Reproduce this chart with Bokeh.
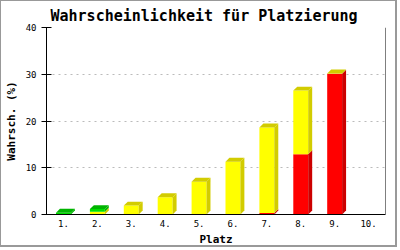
from bokeh.plotting import figure
from bokeh.models import FixedTicker, Span, Range1d
from bokeh.embed import file_html
from bokeh.resources import INLINE

# ---- data ----
platz_labels = ["1.", "2.", "3.", "4.", "5.", "6.", "7.", "8.", "9.", "10."]
red_vals = [0, 0, 0, 0, 0, 0, 0.3, 12.9, 30.1, 0]
yellow_vals = [0, 0.6, 1.9, 3.7, 7.0, 11.3, 18.3, 13.6, 0.05, 0]
green_vals = [0.4, 0.55, 0, 0, 0, 0, 0, 0, 0, 0]
y_ticks = [0, 10, 20, 30, 40]

series = [
    (red_vals, "#ff0000", "#cc0000"),
    (yellow_vals, "#ffff00", "#d2cc00"),
    (green_vals, "#00e000", "#00b400"),
]

n = len(platz_labels)
centers = [i + 0.5 for i in range(n)]

p = figure(width=397, height=247, output_backend="svg", toolbar_location=None,
           x_range=Range1d(0, n), y_range=Range1d(0, 40),
           min_border_left=42, min_border_right=13, min_border_top=24, min_border_bottom=33,
           title="Wahrscheinlichkeit für Platzierung")
p.styles = {"border-left": "1px solid #999999", "border-top": "1px solid #999999",
            "border-right": "2px solid #999999", "border-bottom": "2px solid #999999"}
p.background_fill_color = "white"
p.border_fill_color = "white"
p.outline_line_color = None

p.title.text_font = "DejaVu Sans Mono"
p.title.text_font_size = "15px"
p.title.text_font_style = "bold"
p.title.text_color = "black"
p.title.align = "left"
p.title.offset = 4
p.title.standoff = 6

hw = 0.22   # half front width (data units)
dx = 0.117  # depth in x
dy = 0.85   # depth in y

base = [0.0] * n
top_color = [None] * n
for vals, front, side in series:
    fl, fr, fb, ft = [], [], [], []
    sx, sy = [], []
    for i in range(n):
        v = vals[i]
        if v <= 0:
            continue
        y0 = base[i]
        y1 = y0 + v
        xc = centers[i]
        fl.append(xc - hw); fr.append(xc + hw); fb.append(y0); ft.append(y1)
        sx.append([xc + hw, xc + hw + dx, xc + hw + dx, xc + hw])
        sy.append([y0, y0 + dy, y1 + dy, y1])
        base[i] = y1
        top_color[i] = side
    if fl:
        p.quad(left=fl, right=fr, bottom=fb, top=ft, fill_color=front, line_color=None)
        p.patches(xs=sx, ys=sy, fill_color=side, line_color=None)

tx, ty, tc = [], [], []
for i in range(n):
    if top_color[i] is None:
        continue
    xc = centers[i]
    y1 = base[i]
    tx.append([xc - hw, xc - hw + dx, xc + hw + dx, xc + hw])
    ty.append([y1, y1 + dy, y1 + dy, y1])
    tc.append(top_color[i])
p.patches(xs=tx, ys=ty, fill_color=tc, line_color=None)

# axes
p.xaxis.ticker = FixedTicker(ticks=centers)
p.xaxis.major_label_overrides = {c: lab for c, lab in zip(centers, platz_labels)}
p.xaxis.major_tick_in = 0
p.xaxis.major_tick_out = 0
p.xaxis.minor_tick_line_color = None
p.xaxis.major_label_standoff = 5
p.xaxis.axis_label = "Platz"
p.xaxis.axis_label_standoff = 3

p.yaxis.ticker = FixedTicker(ticks=y_ticks)
p.yaxis.major_tick_in = 5
p.yaxis.major_tick_out = 5
p.yaxis.minor_tick_line_color = None
p.yaxis.major_label_standoff = 5
p.yaxis.axis_label = "Wahrsch. (%)"
p.yaxis.axis_label_standoff = 5

for ax in (p.xaxis[0], p.yaxis[0]):
    ax.axis_line_color = "black"
    ax.major_tick_line_color = "black"
    ax.major_label_text_font = "DejaVu Sans Mono"
    ax.major_label_text_font_size = "9px"
    ax.major_label_text_color = "black"
    ax.axis_label_text_font = "DejaVu Sans Mono"
    ax.axis_label_text_font_size = "11px"
    ax.axis_label_text_font_style = "bold"
    ax.axis_label_text_color = "black"

p.xgrid.grid_line_color = None
p.ygrid.ticker = FixedTicker(ticks=y_ticks[1:])
p.ygrid.grid_line_color = "#bbbbbb"
p.ygrid.grid_line_dash = "2 4"

p.add_layout(Span(location=n, dimension="height", line_color="black", line_width=1))

open("out.html", "w").write(file_html(p, INLINE))
